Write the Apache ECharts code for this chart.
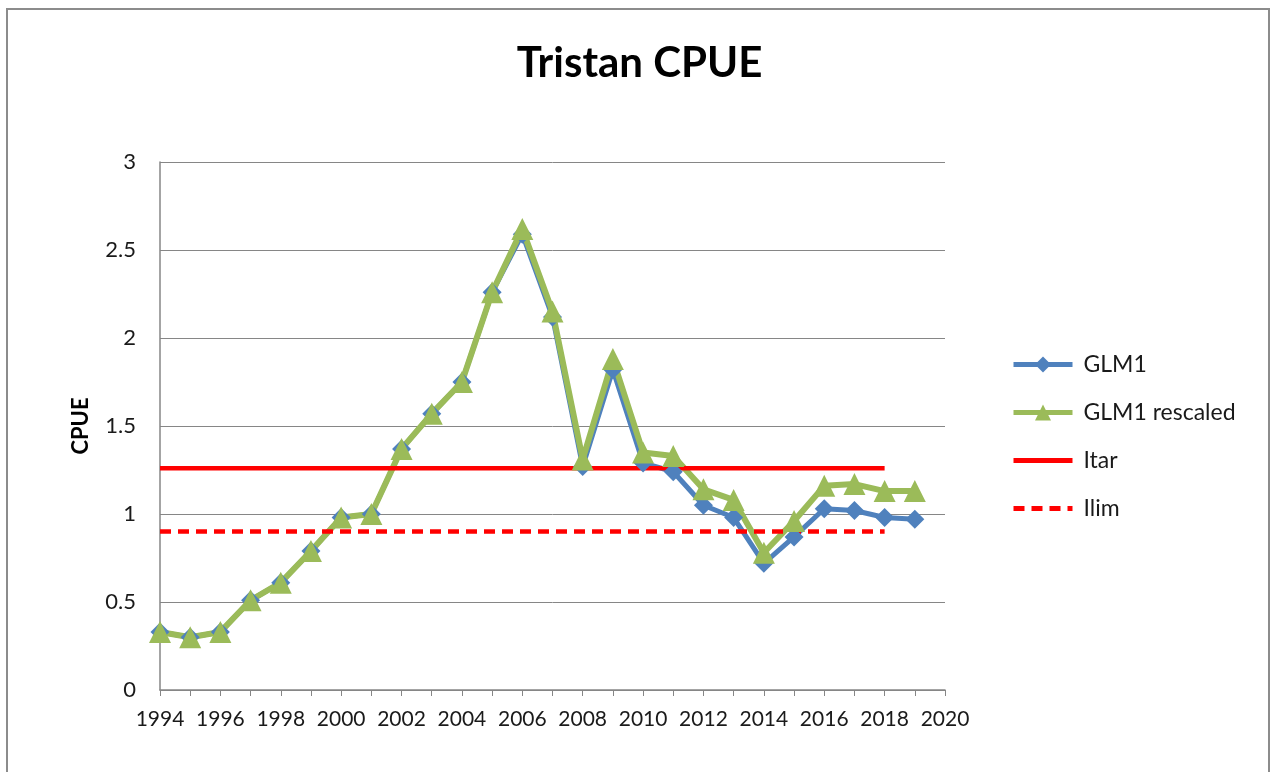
<!DOCTYPE html>
<html>
<head>
<meta charset="utf-8">
<script src="https://cdn.jsdelivr.net/npm/echarts@6/dist/echarts.min.js"></script>
<style>
  html, body { margin: 0; padding: 0; background: #fff; }
  #frame {
    position: absolute; left: 6px; top: 8px; width: 1264px; height: 800px;
    border: 2px solid #8c8c8c; border-bottom: none; box-sizing: border-box;
  }
  #chart { position: absolute; left: 0; top: 0; width: 1279px; height: 772px; }
</style>
</head>
<body>
<div id="frame"></div>
<div id="chart"></div>
<script>
// values
let years = [1994, 1995, 1996, 1997, 1998, 1999, 2000, 2001, 2002, 2003, 2004, 2005, 2006,
  2007, 2008, 2009, 2010, 2011, 2012, 2013, 2014, 2015, 2016, 2017, 2018, 2019]
let glm1 = [0.33, 0.30, 0.33, 0.51, 0.61, 0.79, 0.98, 1.00, 1.37, 1.57, 1.75, 2.26, 2.59,
  2.12, 1.27, 1.82, 1.29, 1.24, 1.05, 0.98, 0.72, 0.87, 1.03, 1.02, 0.98, 0.97]
let glm1Rescaled = [0.33, 0.30, 0.33, 0.51, 0.61, 0.79, 0.98, 1.00, 1.37, 1.57, 1.75, 2.26, 2.62,
  2.15, 1.31, 1.88, 1.35, 1.33, 1.14, 1.08, 0.78, 0.96, 1.16, 1.17, 1.13, 1.13]
let refYears = [1994, 2018]
let itar = [1.26, 1.26]
let ilim = [0.90, 0.90]

const pairs = (xs, ys) => xs.map((x, i) => [x, ys[i]])

var myChart = echarts.init(document.getElementById('chart'))
let font = 'Lato, "Open Sans", sans-serif'
let option = {
  animation: false,
  backgroundColor: 'transparent',
  title: {
    text: 'Tristan CPUE',
    left: 'center',
    top: 37,
    textStyle: { fontFamily: font, fontWeight: 'bold', fontSize: 42, color: '#000' }
  },
  grid: { left: 160, right: 334, top: 162, bottom: 82 },
  legend: {
    orient: 'vertical',
    left: 1006,
    top: 348,
    itemWidth: 59,
    itemHeight: 20,
    itemGap: 25,
    lineStyle: { width: 5 },
    textStyle: { fontFamily: font, fontSize: 23, color: '#1a1a1a', padding: [0, 0, 0, 6] },
    data: [
      'GLM1',
      'GLM1 rescaled',
      { name: 'Itar', itemStyle: { opacity: 0 } },
      { name: 'Ilim', itemStyle: { opacity: 0 } }
    ]
  },
  xAxis: {
    type: 'value',
    min: 1994,
    max: 2020,
    interval: 2,
    axisLine: { lineStyle: { color: '#868686', width: 1.5 } },
    axisTick: { show: true, length: 6, lineStyle: { color: '#868686' } },
    minorTick: { show: true, splitNumber: 2, length: 6, lineStyle: { color: '#868686' } },
    splitLine: { show: false },
    axisLabel: { fontFamily: font, fontSize: 21, color: '#1a1a1a', margin: 19, formatter: (v) => String(v) }
  },
  yAxis: {
    type: 'value',
    min: 0,
    max: 3,
    interval: 0.5,
    name: 'CPUE',
    nameLocation: 'middle',
    nameGap: 68,
    nameTextStyle: { fontFamily: font, fontWeight: 'bold', fontSize: 22, color: '#000' },
    axisLine: { show: true, lineStyle: { color: '#868686', width: 1.5 } },
    axisTick: { show: false },
    splitLine: { lineStyle: { color: '#868686', width: 1 } },
    axisLabel: { fontFamily: font, fontSize: 22, color: '#1a1a1a', margin: 24 }
  },
  series: [
    {
      name: 'GLM1',
      type: 'line',
      data: pairs(years, glm1),
      symbol: 'diamond',
      symbolSize: 19,
      lineStyle: { color: '#4F81BD', width: 5 },
      itemStyle: { color: '#4F81BD' }
    },
    {
      name: 'GLM1 rescaled',
      type: 'line',
      data: pairs(years, glm1Rescaled),
      symbol: 'triangle',
      symbolSize: 22,
      lineStyle: { color: '#9BBB59', width: 6 },
      itemStyle: { color: '#9BBB59' }
    },
    {
      name: 'Itar',
      type: 'line',
      data: pairs(refYears, itar),
      symbol: 'none',
      lineStyle: { color: '#FF0000', width: 4.5 },
      itemStyle: { color: '#FF0000' }
    },
    {
      name: 'Ilim',
      type: 'line',
      data: pairs(refYears, ilim),
      symbol: 'none',
      lineStyle: { color: '#FF0000', width: 4.5, type: [11, 7] },
      itemStyle: { color: '#FF0000' }
    }
  ]
}
myChart.setOption(option)
</script>
</body>
</html>
